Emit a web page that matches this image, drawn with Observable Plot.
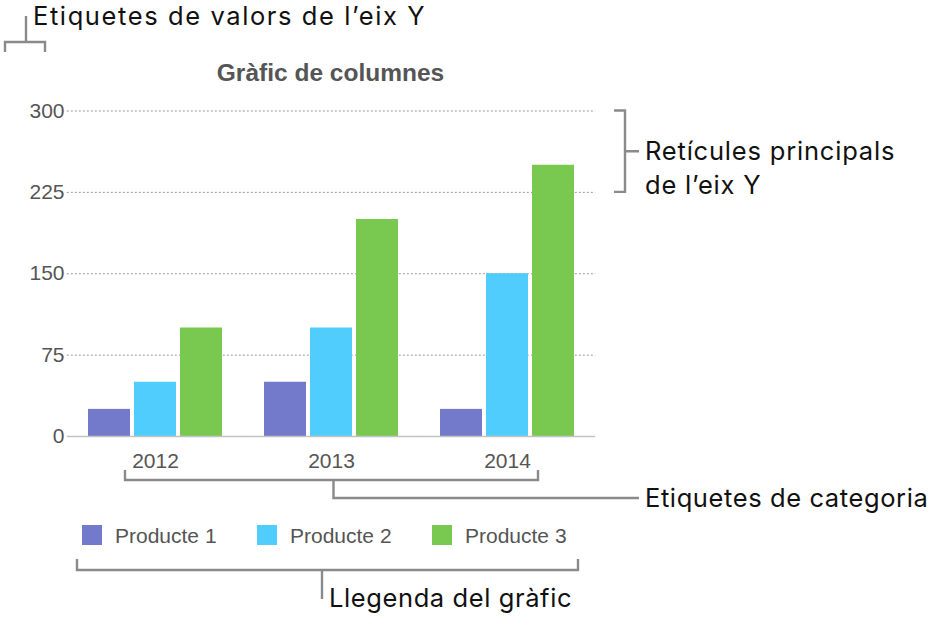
<!DOCTYPE html>
<html>
<head>
<meta charset="utf-8">
<script src="https://cdn.jsdelivr.net/npm/d3@7"></script>
<script src="https://cdn.jsdelivr.net/npm/@observablehq/plot@0.6"></script>
<style>
  html, body { margin: 0; padding: 0; background: #fff; }
  #wrap { position: relative; width: 939px; height: 628px; overflow: hidden; }
  #chart, #ann { position: absolute; left: 0; top: 0; }
</style>
</head>
<body>
<div id="wrap">
  <div id="chart"></div>
  <svg id="ann" width="939" height="628"></svg>
</div>
<script>
// ---- data ----
const years = ["2012", "2013", "2014"];
const products = ["Producte 1", "Producte 2", "Producte 3"];
const producte1 = [25, 50, 25];
const producte2 = [50, 100, 150];
const producte3 = [100, 200, 250];
const colors = ["#7379cb", "#50cdfd", "#79c951"];
const yTicks = [0, 75, 150, 225, 300];
const title = "Gràfic de columnes";
const annYLabels = "Etiquetes de valors de l’eix Y";
const annGrid = ["Retícules principals", "de l’eix Y"];
const annCategory = "Etiquetes de categoria";
const annLegend = "Llegenda del gràfic";

const series = [producte1, producte2, producte3];
const data = [];
years.forEach((yr, i) => products.forEach((p, j) => data.push({year: yr, product: p, value: series[j][i]})));

const chartFont = "'Liberation Sans', Arial, Helvetica, sans-serif";
const annFont = "Inter, 'Noto Sans', sans-serif";

const W = 939, H = 628, mL = 66, mR = 344, mT = 110.5, mB = 192;
const fxInner = 0.24, fxOuter = 0.12;
const step = (W - mL - mR) / (years.length - fxInner + 2 * fxOuter);
const ext = -step * fxInner / 2; // extend facet-wide rules across the gaps between facets

const plot = Plot.plot({
  width: W,
  height: H,
  marginTop: mT,
  marginBottom: mB,
  marginLeft: mL,
  marginRight: mR,
  style: {fontFamily: chartFont, background: "transparent"},
  fx: {domain: years, paddingInner: fxInner, paddingOuter: fxOuter, label: null},
  x: {domain: products, paddingInner: 0.087, paddingOuter: 0, axis: null},
  y: {domain: [0, 300], label: null, axis: null},
  color: {domain: products, range: colors},
  marks: [
    Plot.ruleY(yTicks.slice(1), {stroke: "#9a9a9a", strokeWidth: 1, strokeDasharray: "2,2", insetLeft: ext, insetRight: ext}),
    Plot.barY(data, {fx: "year", x: "product", y: "value", fill: "product"}),
    Plot.ruleY([0], {stroke: "#c2c2c2", strokeWidth: 1.5, insetLeft: ext, insetRight: ext}),
    Plot.axisY(yTicks, {tickSize: 0, tickPadding: 24, fontSize: 21, color: "#555", label: null}),
    Plot.axisFx({anchor: "bottom", tickSize: 0, tickPadding: 17, fontSize: 21, color: "#555", label: null})
  ]
});
document.getElementById("chart").appendChild(plot);

// ---- overlay: title, legend, annotations ----
const fx = plot.scale("fx");
const y = plot.scale("y");
const band = fx.bandwidth;
const center = yr => fx.apply(yr) + band / 2;
const svg = d3.select("#ann");
const lineColor = "#8a8a8a";
const lw = 2.4;

// title
svg.append("text")
  .attr("x", (mL + (W - mR)) / 2).attr("y", 81)
  .attr("text-anchor", "middle")
  .style("font-family", chartFont).style("font-size", "24.5px").style("font-weight", "bold")
  .attr("fill", "#555").text(title);

// legend
const lg = svg.append("g");
products.forEach((p, i) => {
  const x0 = 82 + i * 175;
  lg.append("rect").attr("x", x0).attr("y", 525).attr("width", 20).attr("height", 20).attr("fill", colors[i]);
  lg.append("text").attr("x", x0 + 33).attr("y", 543)
    .style("font-family", chartFont).style("font-size", "21px").attr("fill", "#555").text(p);
});

function path(d) {
  svg.append("path").attr("d", d).attr("fill", "none").attr("stroke", lineColor)
    .attr("stroke-width", lw).attr("stroke-linejoin", "miter");
}
function label(x, yy, t, ls) {
  svg.append("text").attr("x", x).attr("y", yy)
    .style("font-family", annFont).style("font-size", "25.5px")
    .style("letter-spacing", ls + "px").attr("fill", "#111").text(t);
}

// Y value labels annotation
path(`M5,52 V42 H45 V52 M26,42 V16`);
label(33, 25, annYLabels, 1.6);

// gridlines annotation
const gTop = y.apply(300), gBot = y.apply(225), gMid = (gTop + gBot) / 2;
path(`M614,${gTop} H625 V${gBot} H614 M625,${gMid} H639`);
label(645, gMid + 9, annGrid[0], 0.8);
label(645, gMid + 43, annGrid[1], 0.8);

// category annotation
const cL = center(years[0]) - 30, cR = center(years[years.length - 1]) + 31, cM = (cL + cR) / 2 + 2;
path(`M${cL},470 V480 H${cR} V470 M${cM},480 V498 H639`);
label(645, 507, annCategory, 0.6);

// legend annotation
path(`M77,559 V570 H578 V559 M322,570 V599`);
label(329, 607, annLegend, 0.6);
</script>
</body>
</html>
